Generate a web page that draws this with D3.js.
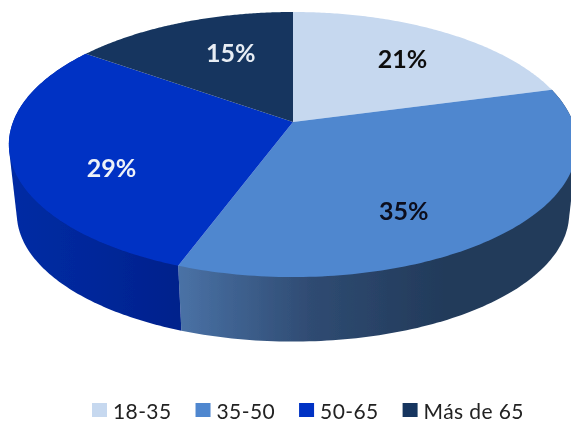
<!DOCTYPE html>
<html>
<head>
<meta charset="utf-8">
<script src="https://cdn.jsdelivr.net/npm/d3@7"></script>
<style>
html, body { margin: 0; padding: 0; background: #fff; overflow: hidden; }
svg { display: block; }
text { font-family: Lato, "Open Sans", sans-serif; }
</style>
</head>
<body>
<div id="chart"></div>
<script>
const categories = ['18-35', '35-50', '50-65', 'Más de 65'];
// unrounded shares estimated from the slice edges, the labels show them rounded
const values = [20.8, 34.8, 29.3, 15.1];
const topColors = ['#c6d8ef', '#4f87cf', '#0232c4', '#15365f'];
const labelColors = ['#111', '#0b0f1e', '#eef2f8', '#e8edf4'];
// wall shading left -> right, per slice (only the two front slices show a wall)
const wallColors = [null, ['#4a72a6', '#2f4b72', '#223a5a', '#223a5a'], ['#002ca4', '#00279a', '#00218c'], null];
const labelOffsets = [[15, -7], [-12, 26], [-16, 22], [8, -7]];

const width = 571, height = 422;
const svg = d3.select('#chart').append('svg').attr('width', width).attr('height', height);
const defs = svg.append('defs');
defs.append('filter').attr('id', 'soft').append('feGaussianBlur').attr('stdDeviation', 0.45);
const g = svg.append('g').attr('filter', 'url(#soft)');

// perspective of the pie disc: the centre sits above the middle of the ellipse
const cx = 293, cy = 122, A = 280, B = 128.7, k = -0.17;
const project = (a, r = 1) => {
    const x = r * Math.sin(a), y = -r * Math.cos(a), d = 1 + k * y;
    return [cx + A * x / d, cy + B * y / d];
};
// floor of the pie is a little narrower than the top face
const topMid = 145, floorMid = 214, floorX = 0.972, floorY = 0.966;
const toFloor = p => [cx + (p[0] - cx) * floorX, floorMid + (p[1] - topMid) * floorY];

const arcs = d3.pie().sort(null)(values);
const line = d3.line();
const arcPoints = d => d3.range(0, 121).map(i => project(d.startAngle + (d.endAngle - d.startAngle) * i / 120));

// walls, the hull keeps the outline clean where the edge turns round at the sides
arcs.forEach((d, i) => {
    if (!wallColors[i]) return;
    const edge = arcPoints(d);
    const xs = d3.extent(edge, p => p[0]);
    const grad = defs.append('linearGradient').attr('id', `wall-${i}`)
        .attr('gradientUnits', 'userSpaceOnUse')
        .attr('x1', xs[0]).attr('x2', xs[1]).attr('y1', 0).attr('y2', 0);
    wallColors[i].forEach((c, j) => {
        grad.append('stop').attr('offset', j / (wallColors[i].length - 1)).attr('stop-color', c);
    });
    const hull = d3.polygonHull(edge.concat(edge.map(toFloor)));
    g.append('path').attr('d', line(hull) + 'Z').attr('fill', `url(#wall-${i})`);
});

// top faces
arcs.forEach((d, i) => {
    g.append('path').attr('d', line([[cx, cy]].concat(arcPoints(d))) + 'Z').attr('fill', topColors[i]);
});

// percent labels
arcs.forEach((d, i) => {
    const p = project((d.startAngle + d.endAngle) / 2, 0.6);
    g.append('text').text(Math.round(values[i]) + '%')
        .attr('x', p[0] + labelOffsets[i][0]).attr('y', p[1] + labelOffsets[i][1])
        .attr('text-anchor', 'middle').attr('dominant-baseline', 'central')
        .attr('fill', labelColors[i]).style('font-size', '25px').style('font-weight', 'bold');
});

// legend
let lx = 92;
categories.forEach((c, i) => {
    g.append('rect').attr('x', lx).attr('y', 403).attr('width', 15).attr('height', 14).attr('fill', topColors[i]);
    const t = g.append('text').text(c).attr('x', lx + 21).attr('y', 419)
        .attr('fill', '#222').style('font-size', '21px').style('letter-spacing', '0.4px');
    lx += 21 + t.node().getComputedTextLength() + 24;
});
</script>
</body>
</html>
